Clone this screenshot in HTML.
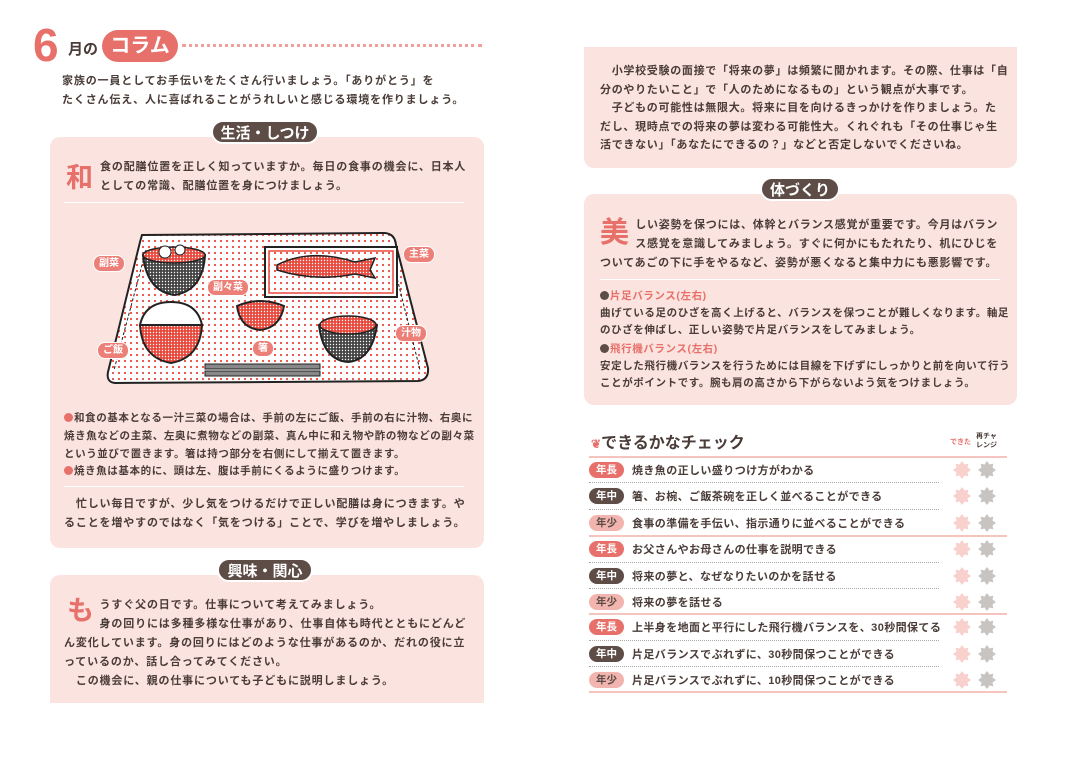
<!DOCTYPE html>
<html><head><meta charset="utf-8"><style>
*{margin:0;padding:0;box-sizing:border-box}
body{width:1067px;height:757px;background:#fff;position:relative;overflow:hidden;font-family:"Liberation Sans","Noto Sans CJK JP",sans-serif;color:#4a3c38;font-weight:bold}
.a{position:absolute;white-space:nowrap}
.t{font-size:11px;letter-spacing:0.85px;line-height:19px}
.s{font-size:10.5px;letter-spacing:0.6px}
.box{position:absolute;background:#fbe3df;border-radius:10px}
.tag{position:absolute;background:#5e4d47;color:#fff;border-radius:12px;font-size:15px;text-align:center;line-height:24px;height:24px;border:2px solid #fff}
.big{position:absolute;color:#e8706a;font-size:27px;line-height:30px}
.sep{position:absolute;height:1px;background:#fff}
.pk{color:#e8706a}
.badge{position:absolute;left:589px;width:35px;height:16px;border-radius:8px;color:#fff;font-size:10.5px;text-align:center;line-height:16px}
.b1{background:#e8706a}.b2{background:#5e4d47}.b3{background:#f2b4ae;color:#5e4d47}
.row{position:absolute;left:632px;font-size:11px;letter-spacing:0.4px}
.dl{position:absolute;left:589px;width:350px;border-top:1px dotted #b0a6a2}
.pl{position:absolute;left:589px;width:418px;height:2px;background:#f6c4bf}
.lb{position:absolute;background:#ec8079;color:#fff;font-size:10px;border-radius:8px;padding:0 5px;line-height:15px;border:1px solid #fff}
.dot{display:inline-block;width:9px;height:9px;border-radius:50%;background:#e8706a;margin-right:1px;vertical-align:-1px}
.ddot{display:inline-block;width:9px;height:9px;border-radius:50%;background:#5e4d47;margin-right:1px;vertical-align:-1px}
</style></head><body>
<div class="a" style="left:33px;top:20px;font-size:46px;color:#e8706a;line-height:50px">6</div>
<div class="a" style="left:68px;top:38px;font-size:15px">月の</div>
<div class="a" style="left:102px;top:30px;width:76px;height:32px;background:#e8706a;border-radius:16px;color:#fff;font-size:20px;text-align:center;line-height:32px">コラム</div>
<div class="a" style="left:182px;top:44px;width:300px;border-top:3px dotted #f0a09a"></div>
<div class="a t" style="left:62px;top:72px">家族の一員としてお手伝いをたくさん行いましょう。「ありがとう」を<br>たくさん伝え、人に喜ばれることがうれしいと感じる環境を作りましょう。</div>

<div class="box" style="left:50px;top:137px;width:434px;height:411px"></div>
<div class="tag" style="left:211px;top:120px;width:108px">生活・しつけ</div>
<div class="big" style="left:66px;top:163px">和</div>
<div class="a t" style="left:100px;top:158px">食の配膳位置を正しく知っていますか。毎日の食事の機会に、日本人<br>としての常識、配膳位置を身につけましょう。</div>
<div class="sep" style="left:64px;top:202px;width:400px"></div>

<svg class="a" style="left:50px;top:220px" width="440" height="180" viewBox="0 0 440 180">
<defs><pattern id="d" width="6" height="6" patternUnits="userSpaceOnUse"><rect width="6" height="6" fill="#fff"/><circle cx="3" cy="3" r="1.1" fill="#e8493d"/></pattern>
<pattern id="h" width="3" height="3" patternUnits="userSpaceOnUse"><rect width="3" height="3" fill="#e8493d"/><circle cx="1.5" cy="1.5" r="0.7" fill="#fff"/></pattern>
<pattern id="k" width="3" height="3" patternUnits="userSpaceOnUse"><rect width="3" height="3" fill="#444"/><circle cx="1.5" cy="1.5" r="0.7" fill="#fff"/></pattern></defs>
<path d="M92 15 L335 13 Q345 14 346 25 L378 148 Q379 160 368 161 L65 163 Q56 162 58 152 L90 22 Z" fill="url(#d)" stroke="#222" stroke-width="2"/>
<path d="M96 30 L64 150 M340 30 L370 150" stroke="#222" stroke-dasharray="3 2" fill="none"/>
<path d="M93 35 Q123 25 155 35 Q153 70 125 75 Q97 72 93 35Z" fill="url(#k)" stroke="#222" stroke-width="2"/>
<ellipse cx="124" cy="35" rx="31" ry="8" fill="url(#h)" stroke="#222" stroke-width="1.5"/>
<circle cx="115" cy="32" r="6" fill="#fff" stroke="#222"/><circle cx="130" cy="30" r="5" fill="#fff" stroke="#222"/>
<rect x="215" y="27" width="132" height="50" fill="#fff" stroke="#222" stroke-width="2"/>
<rect x="219" y="31" width="124" height="42" fill="url(#d)" stroke="#e8493d" stroke-width="1.5"/>
<path d="M227 45 Q260 28 305 42 L325 38 L320 50 L325 58 L305 54 Q265 62 227 50Z" fill="url(#h)" stroke="#222" stroke-width="1.5"/>
<path d="M90 105 Q120 88 152 105 Q150 138 121 143 Q92 138 90 105Z" fill="url(#h)" stroke="#222" stroke-width="2"/>
<path d="M90 105 Q95 82 121 82 Q147 82 152 105Z" fill="#fff" stroke="#222" stroke-width="2"/>
<path d="M187 86 Q210 76 234 86 Q230 108 210 110 Q190 108 187 86Z" fill="url(#h)" stroke="#222" stroke-width="2"/>
<path d="M269 105 Q297 88 327 105 Q322 140 298 142 Q273 140 269 105Z" fill="url(#k)" stroke="#222" stroke-width="2"/>
<ellipse cx="298" cy="105" rx="28" ry="9" fill="url(#h)" stroke="#222" stroke-width="1.5"/>
<rect x="155" y="144" width="115" height="5" fill="#888" stroke="#222"/><rect x="155" y="151" width="115" height="5" fill="#888" stroke="#222"/>
</svg>
<div class="lb" style="left:93px;top:255px">副菜</div>
<div class="lb" style="left:207px;top:279px">副々菜</div>
<div class="lb" style="left:403px;top:246px">主菜</div>
<div class="lb" style="left:395px;top:325px">汁物</div>
<div class="lb" style="left:97px;top:342px">ご飯</div>
<div class="lb" style="left:252px;top:340px">箸</div>

<div class="a s" style="left:64px;top:409px;line-height:18px"><span class="dot"></span>和食の基本となる一汁三菜の場合は、手前の左にご飯、手前の右に汁物、右奥に<br>焼き魚などの主菜、左奥に煮物などの副菜、真ん中に和え物や酢の物などの副々菜<br>という並びで置きます。箸は持つ部分を右側にして揃えて置きます。</div>
<div class="a s" style="left:64px;top:463px"><span class="dot"></span>焼き魚は基本的に、頭は左、腹は手前にくるように盛りつけます。</div>
<div class="sep" style="left:64px;top:486px;width:400px"></div>
<div class="a t" style="left:64px;top:495px">　忙しい毎日ですが、少し気をつけるだけで正しい配膳は身につきます。や<br>ることを増やすのではなく「気をつける」ことで、学びを増やしましょう。</div>

<div class="box" style="left:50px;top:575px;width:434px;height:128px;border-radius:10px 10px 0 0"></div>
<div class="tag" style="left:217px;top:558px;width:96px">興味・関心</div>
<div class="big" style="left:67px;top:596px">も</div>
<div class="a t" style="left:64px;top:596px">　　　うすぐ父の日です。仕事について考えてみましょう。<br>　　　身の回りには多種多様な仕事があり、仕事自体も時代とともにどんど<br>ん変化しています。身の回りにはどのような仕事があるのか、だれの役に立<br>っているのか、話し合ってみてください。<br>　この機会に、親の仕事についても子どもに説明しましょう。</div>

<div class="box" style="left:584px;top:47px;width:433px;height:121px;border-radius:0 0 10px 10px"></div>
<div class="a t" style="left:600px;top:62px;line-height:18.5px;letter-spacing:0.7px">　小学校受験の面接で「将来の夢」は頻繁に聞かれます。その際、仕事は「自<br>分のやりたいこと」で「人のためになるもの」という観点が大事です。<br>　子どもの可能性は無限大。将来に目を向けるきっかけを作りましょう。た<br>だし、現時点での将来の夢は変わる可能性大。くれぐれも「その仕事じゃ生<br>活できない」「あなたにできるの？」などと否定しないでくださいね。</div>

<div class="box" style="left:584px;top:194px;width:433px;height:211px"></div>
<div class="tag" style="left:760px;top:177px;width:80px">体づくり</div>
<div class="big" style="left:600px;top:218px;font-size:29px">美</div>
<div class="a t" style="left:600px;top:216px;letter-spacing:0.75px">　　　しい姿勢を保つには、体幹とバランス感覚が重要です。今月はバラン<br>　　　ス感覚を意識してみましょう。すぐに何かにもたれたり、机にひじを<br>ついてあごの下に手をやるなど、姿勢が悪くなると集中力にも悪影響です。</div>
<div class="sep" style="left:600px;top:279px;width:400px"></div>
<div class="a s" style="left:600px;top:288px;line-height:17px"><span class="ddot"></span><span class="pk">片足バランス(左右)</span><br>曲げている足のひざを高く上げると、バランスを保つことが難しくなります。軸足<br>のひざを伸ばし、正しい姿勢で片足バランスをしてみましょう。</div>
<div class="a s" style="left:600px;top:341px;line-height:17px"><span class="ddot"></span><span class="pk">飛行機バランス(左右)</span><br>安定した飛行機バランスを行うためには目線を下げずにしっかりと前を向いて行う<br>ことがポイントです。腕も肩の高さから下がらないよう気をつけましょう。</div>

<div class="a" style="left:591px;top:429px;font-size:16px"><span class="pk" style="font-size:12px">❦</span>できるかなチェック</div>
<div class="a pk" style="left:950px;top:437px;font-size:7px">できた</div>
<div class="a" style="left:976px;top:432px;font-size:7px;line-height:9px">再チャ<br>レンジ</div>
<div class="pl" style="top:456px"></div>

<div class="badge b1" style="top:462px">年長</div><div class="row" style="top:462px">焼き魚の正しい盛りつけ方がわかる</div>
<div class="dl" style="top:482px"></div>
<div class="badge b2" style="top:488px">年中</div><div class="row" style="top:488px">箸、お椀、ご飯茶碗を正しく並べることができる</div>
<div class="dl" style="top:509px"></div>
<div class="badge b3" style="top:515px">年少</div><div class="row" style="top:515px">食事の準備を手伝い、指示通りに並べることができる</div>
<div class="pl" style="top:535px"></div>
<div class="badge b1" style="top:541px">年長</div><div class="row" style="top:541px">お父さんやお母さんの仕事を説明できる</div>
<div class="dl" style="top:562px"></div>
<div class="badge b2" style="top:568px">年中</div><div class="row" style="top:568px">将来の夢と、なぜなりたいのかを話せる</div>
<div class="dl" style="top:588px"></div>
<div class="badge b3" style="top:594px">年少</div><div class="row" style="top:594px">将来の夢を話せる</div>
<div class="pl" style="top:613px"></div>
<div class="badge b1" style="top:619px">年長</div><div class="row" style="top:619px">上半身を地面と平行にした飛行機バランスを、30秒間保てる</div>
<div class="dl" style="top:640px"></div>
<div class="badge b2" style="top:646px">年中</div><div class="row" style="top:646px">片足バランスでぶれずに、30秒間保つことができる</div>
<div class="dl" style="top:666px"></div>
<div class="badge b3" style="top:672px">年少</div><div class="row" style="top:672px">片足バランスでぶれずに、10秒間保つことができる</div>
<div class="pl" style="top:691px"></div>

<svg class="a" style="left:950px;top:460px" width="50" height="230">
<defs><polygon id="s" points="9,0 11.5,3.5 15.4,2.6 14.5,6.5 18,9 14.5,11.5 15.4,15.4 11.5,14.5 9,18 6.5,14.5 2.6,15.4 3.5,11.5 0,9 3.5,6.5 2.6,2.6 6.5,3.5"/></defs>
<g fill="#f8d0cc">
<use href="#s" x="3" y="1"/><use href="#s" x="3" y="27"/><use href="#s" x="3" y="54"/><use href="#s" x="3" y="80"/><use href="#s" x="3" y="107"/><use href="#s" x="3" y="133"/><use href="#s" x="3" y="158"/><use href="#s" x="3" y="185"/><use href="#s" x="3" y="211"/></g>
<g fill="#c8c4c2">
<use href="#s" x="28" y="1"/><use href="#s" x="28" y="27"/><use href="#s" x="28" y="54"/><use href="#s" x="28" y="80"/><use href="#s" x="28" y="107"/><use href="#s" x="28" y="133"/><use href="#s" x="28" y="158"/><use href="#s" x="28" y="185"/><use href="#s" x="28" y="211"/></g>
</svg>
</body></html>
